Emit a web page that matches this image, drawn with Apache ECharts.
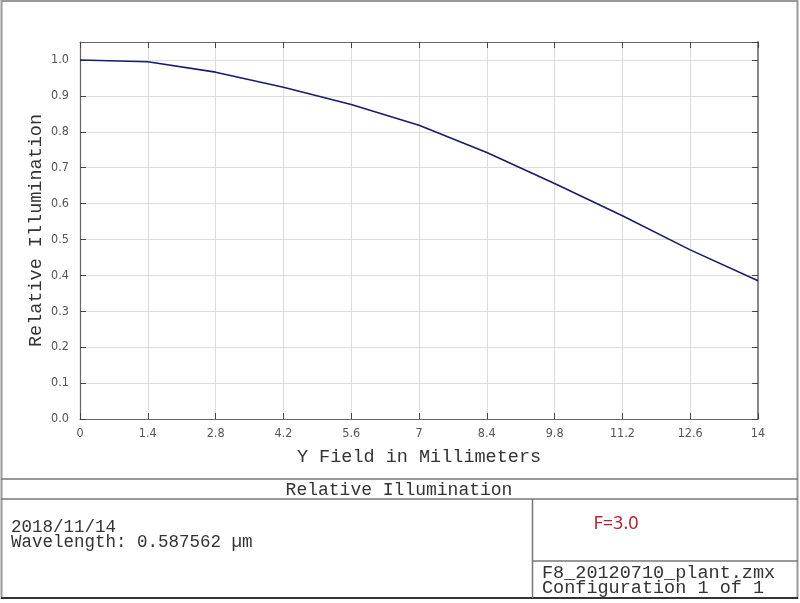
<!DOCTYPE html>
<html>
<head>
<meta charset="utf-8">
<script src="https://cdn.jsdelivr.net/npm/echarts@6/dist/echarts.min.js"></script>
<style>
  html, body { margin: 0; padding: 0; background: #fff; }
  #main { width: 800px; height: 603px; }
</style>
</head>
<body>
<div id="main"></div>
<script>
// 数据
var fieldMm = [0, 1.4, 2.8, 4.2, 5.6, 7, 8.4, 9.8, 11.2, 12.6, 14];
var relIllum = [1.0, 0.995, 0.966, 0.924, 0.876, 0.818, 0.742, 0.656, 0.566, 0.471, 0.385];
var titleText = 'Relative Illumination';
var dateText = '2018/11/14';
var waveText = 'Wavelength: 0.587562 \u00b5m';
var noteText = 'F=3.0';
var fileText = 'F8_20120710_plant.zmx';
var configText = 'Configuration 1 of 1';

(function () {
    var myChart = echarts.init(document.getElementById('main'));
    var mono = "'Liberation Mono', 'DejaVu Sans Mono', monospace";
    var narrow = "'DejaVu Sans Condensed', 'Liberation Mono', monospace";
    var frame = '#666';

    var points = fieldMm.map(function (x, i) { return [x, relIllum[i]]; });

    function ticks() {
        return { show: true, inside: true, length: 6, lineStyle: { color: '#444' } };
    }

    var option = {
        animation: false,
        backgroundColor: '#fff',
        grid: { left: 80, top: 42, right: 42, bottom: 184 },
        xAxis: [
            {
                type: 'value',
                min: 0,
                max: 14,
                interval: 1.4,
                name: 'Y Field in Millimeters',
                nameLocation: 'middle',
                nameGap: 29,
                nameTextStyle: { fontFamily: mono, fontSize: 18.5, color: '#333' },
                axisLine: { onZero: false, lineStyle: { color: frame, width: 1.2 } },
                axisTick: ticks(),
                axisLabel: {
                    margin: 8,
                    fontFamily: narrow,
                    fontSize: 12.5,
                    color: '#555',
                    formatter: function (v) { return String(+v.toFixed(1)); }
                },
                splitLine: { show: true, lineStyle: { color: '#dcdcdc' } }
            },
            {
                type: 'value',
                position: 'top',
                min: 0,
                max: 14,
                interval: 1.4,
                axisLine: { show: true, onZero: false, lineStyle: { color: frame, width: 1.2 } },
                axisTick: ticks(),
                axisLabel: { show: false },
                splitLine: { show: false }
            }
        ],
        yAxis: [
            {
                type: 'value',
                min: 0,
                max: 1.05,
                interval: 0.1,
                name: 'Relative Illumination',
                nameLocation: 'middle',
                nameMoveOverlap: false,
                nameGap: 34,
                nameTextStyle: { fontFamily: mono, fontSize: 18.5, color: '#333' },
                axisLine: { show: true, onZero: false, lineStyle: { color: frame, width: 1.2 } },
                axisTick: ticks(),
                axisLabel: {
                    margin: 11,
                    fontFamily: narrow,
                    fontSize: 12.5,
                    color: '#555',
                    showMaxLabel: false,
                    formatter: function (v) { return v > 1.001 ? '' : v.toFixed(1); }
                },
                splitLine: { show: true, lineStyle: { color: '#dcdcdc' } }
            },
            {
                type: 'value',
                position: 'right',
                min: 0,
                max: 1.05,
                interval: 0.1,
                axisLine: { show: true, onZero: false, lineStyle: { color: '#888', width: 2 } },
                axisTick: ticks(),
                axisLabel: { show: false },
                splitLine: { show: false }
            }
        ],
        series: [
            {
                type: 'line',
                data: points,
                xAxisIndex: 0,
                yAxisIndex: 0,
                showSymbol: false,
                smooth: false,
                lineStyle: { color: '#1b1b6b', width: 1.6 }
            }
        ],
        graphic: [
            // 外框
            { type: 'rect', shape: { x: 1.5, y: 1, width: 796, height: 597 }, style: { fill: null, stroke: '#999', lineWidth: 2 } },
            { type: 'line', shape: { x1: 1, y1: 598, x2: 798, y2: 598 }, style: { stroke: '#333', lineWidth: 2 } },
            { type: 'line', shape: { x1: 1, y1: 479, x2: 798, y2: 479 }, style: { stroke: '#777', lineWidth: 1.5 } },
            { type: 'line', shape: { x1: 1, y1: 499, x2: 798, y2: 499 }, style: { stroke: '#777', lineWidth: 1.5 } },
            { type: 'line', shape: { x1: 532.5, y1: 499, x2: 532.5, y2: 598 }, style: { stroke: '#777', lineWidth: 1.5 } },
            { type: 'line', shape: { x1: 532, y1: 561, x2: 798, y2: 561 }, style: { stroke: '#777', lineWidth: 1.5 } },
            // 文字
            { type: 'text', x: 399, y: 490, style: { text: titleText, font: '18px ' + mono, fill: '#333', align: 'center', verticalAlign: 'middle' } },
            { type: 'text', x: 11, y: 527, style: { text: dateText, font: '17.5px ' + mono, fill: '#333', verticalAlign: 'middle' } },
            { type: 'text', x: 11, y: 542, style: { text: waveText, font: '17.5px ' + mono, fill: '#333', verticalAlign: 'middle' } },
            { type: 'text', x: 616, y: 524, style: { text: noteText, font: "18px 'Noto Sans', sans-serif", fill: '#b5213a', align: 'center', verticalAlign: 'middle' } },
            { type: 'text', x: 542, y: 573, style: { text: fileText, font: '18.5px ' + mono, fill: '#333', verticalAlign: 'middle' } },
            { type: 'text', x: 542, y: 588, style: { text: configText, font: '18.5px ' + mono, fill: '#333', verticalAlign: 'middle' } }
        ]
    };

    myChart.setOption(option);
    window.addEventListener('resize', function () {
        myChart.resize();
    });
})();
</script>
</body>
</html>
